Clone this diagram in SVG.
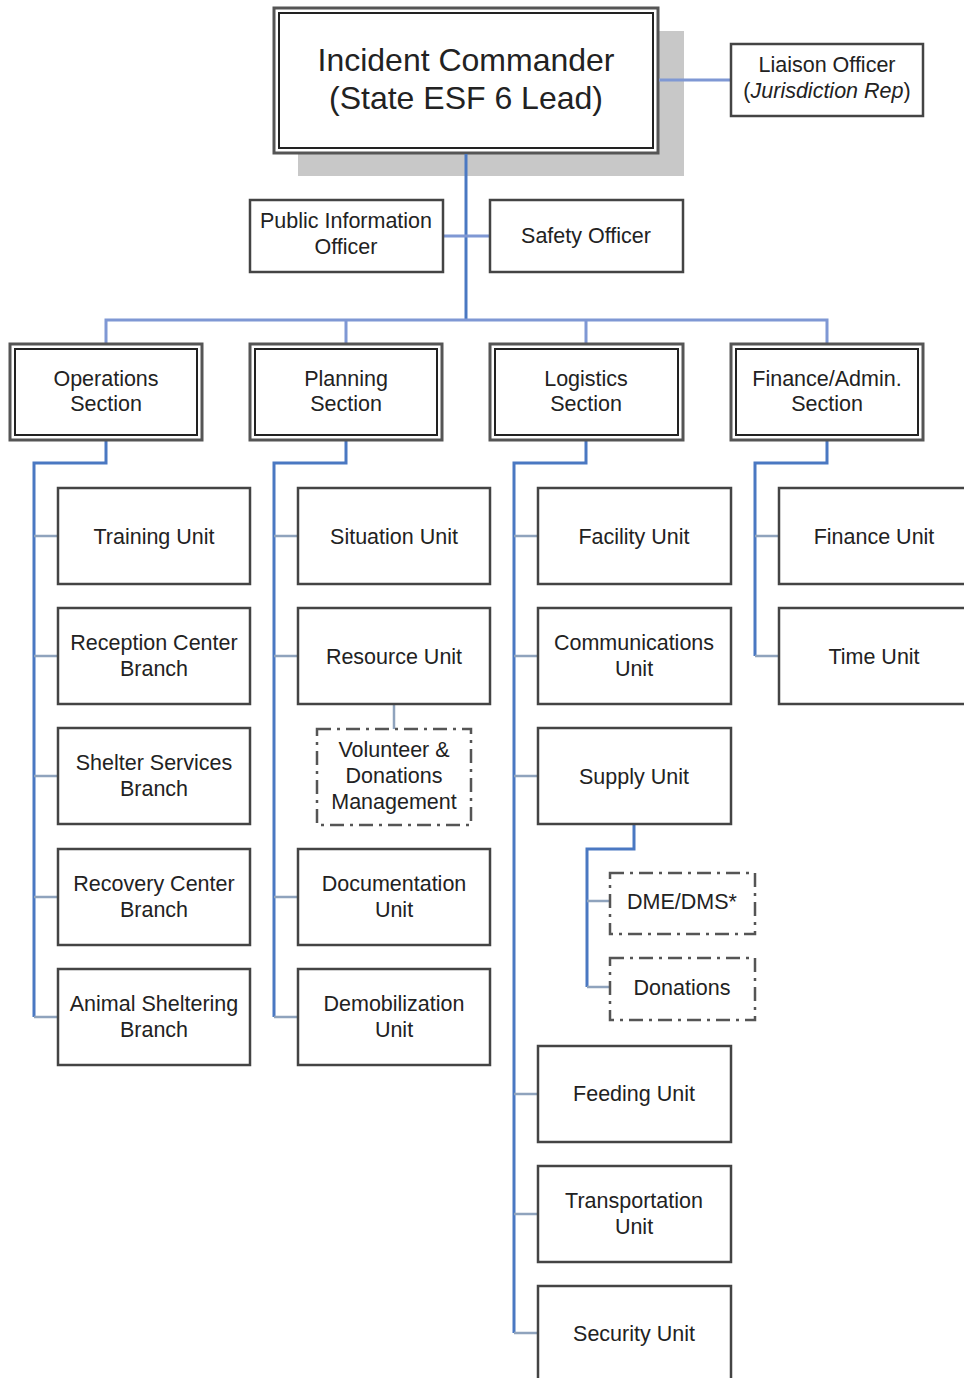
<svg xmlns="http://www.w3.org/2000/svg" width="964" height="1378" viewBox="0 0 964 1378">
<style>
text{font-family:"Liberation Sans",Arial,sans-serif;font-size:21.5px;fill:#222;text-anchor:middle}
.big{font-size:32px}
.box{fill:#fff;stroke:#444;stroke-width:2.5}
.outer{fill:#fff;stroke:#555;stroke-width:3}
.inner{fill:none;stroke:#222;stroke-width:2}
.dash{fill:#fff;stroke:#555;stroke-width:2.5;stroke-dasharray:14 6 3 6}
.main{fill:none;stroke:#4a78c2;stroke-width:3}
.top{fill:none;stroke:#7f98d4;stroke-width:3}
.stub{fill:none;stroke:#8fa3bd;stroke-width:2.5}
</style>
<rect width="964" height="1378" fill="#fff"/>
<g id="ic">
<rect x="298" y="31" width="386" height="145" fill="#c8c8c8"/>
<rect class="outer" x="274" y="8" width="384" height="145"/>
<rect class="inner" x="279" y="13" width="374" height="135"/>
<text class="big" x="466" y="71">Incident Commander</text>
<text class="big" x="466" y="109">(State ESF 6 Lead)</text>
</g>
<g id="connectors">
<path class="top" d="M659 80H731"/>
<path class="main" d="M466 154V320"/>
<path class="top" d="M443 236H490"/>
<path class="top" d="M106 345V320H827V345M346 320V345M586 320V345"/>
<path class="main" d="M106 440V463H34V1017"/>
<path class="stub" d="M34 536H58M34 656H58M34 776H58M34 897H58M34 1017H58"/>
<path class="main" d="M346 440V463H274V1017"/>
<path class="stub" d="M274 536H298M274 656H298M274 897H298M274 1017H298M394 704V729"/>
<path class="main" d="M586 440V463H514V1333"/>
<path class="stub" d="M514 536H538M514 656H538M514 776H538M514 1094H538M514 1214H538M514 1333H538"/>
<path class="main" d="M634 824V849H587V987"/>
<path class="stub" d="M587 901H610M587 987H610"/>
<path class="main" d="M827 440V463H755V656"/>
<path class="stub" d="M755 536H779M755 656H779"/>
</g>
<g id="liaison">
<rect class="box" x="731" y="44" width="192" height="72"/>
<text x="827" y="72">Liaison Officer</text>
<text x="827" y="98">(<tspan font-style="italic">Jurisdiction Rep</tspan>)</text>
</g>
<g id="pio">
<rect class="box" x="250" y="200" width="193" height="72"/>
<text x="346" y="228">Public Information</text>
<text x="346" y="254">Officer</text>
</g>
<g id="safety">
<rect class="box" x="490" y="200" width="193" height="72"/>
<text x="586" y="243">Safety Officer</text>
</g>
<g id="operations">
<rect class="outer" x="10" y="344" width="192" height="96"/>
<rect class="inner" x="15" y="349" width="182" height="86"/>
<text x="106" y="386">Operations</text><text x="106" y="411">Section</text>
</g>
<g id="planning">
<rect class="outer" x="250" y="344" width="192" height="96"/>
<rect class="inner" x="255" y="349" width="182" height="86"/>
<text x="346" y="386">Planning</text><text x="346" y="411">Section</text>
</g>
<g id="logistics">
<rect class="outer" x="490" y="344" width="193" height="96"/>
<rect class="inner" x="495" y="349" width="183" height="86"/>
<text x="586" y="386">Logistics</text><text x="586" y="411">Section</text>
</g>
<g id="finance">
<rect class="outer" x="731" y="344" width="192" height="96"/>
<rect class="inner" x="736" y="349" width="182" height="86"/>
<text x="827" y="386">Finance/Admin.</text><text x="827" y="411">Section</text>
</g>
<g id="training"><rect class="box" x="58" y="488" width="192" height="96"/><text x="154" y="544">Training Unit</text></g>
<g id="reception"><rect class="box" x="58" y="608" width="192" height="96"/><text x="154" y="650">Reception Center</text><text x="154" y="676">Branch</text></g>
<g id="shelter"><rect class="box" x="58" y="728" width="192" height="96"/><text x="154" y="770">Shelter Services</text><text x="154" y="796">Branch</text></g>
<g id="recovery"><rect class="box" x="58" y="849" width="192" height="96"/><text x="154" y="891">Recovery Center</text><text x="154" y="917">Branch</text></g>
<g id="animal"><rect class="box" x="58" y="969" width="192" height="96"/><text x="154" y="1011">Animal Sheltering</text><text x="154" y="1037">Branch</text></g>
<g id="situation"><rect class="box" x="298" y="488" width="192" height="96"/><text x="394" y="544">Situation Unit</text></g>
<g id="resource"><rect class="box" x="298" y="608" width="192" height="96"/><text x="394" y="664">Resource Unit</text></g>
<g id="volunteer"><rect class="dash" x="317" y="729" width="154" height="96"/><text x="394" y="757">Volunteer &amp;</text><text x="394" y="783">Donations</text><text x="394" y="809">Management</text></g>
<g id="documentation"><rect class="box" x="298" y="849" width="192" height="96"/><text x="394" y="891">Documentation</text><text x="394" y="917">Unit</text></g>
<g id="demobilization"><rect class="box" x="298" y="969" width="192" height="96"/><text x="394" y="1011">Demobilization</text><text x="394" y="1037">Unit</text></g>
<g id="facility"><rect class="box" x="538" y="488" width="193" height="96"/><text x="634" y="544">Facility Unit</text></g>
<g id="communications"><rect class="box" x="538" y="608" width="193" height="96"/><text x="634" y="650">Communications</text><text x="634" y="676">Unit</text></g>
<g id="supply"><rect class="box" x="538" y="728" width="193" height="96"/><text x="634" y="784">Supply Unit</text></g>
<g id="dme"><rect class="dash" x="610" y="873" width="145" height="61"/><text x="682" y="909">DME/DMS*</text></g>
<g id="donations"><rect class="dash" x="610" y="958" width="145" height="62"/><text x="682" y="995">Donations</text></g>
<g id="feeding"><rect class="box" x="538" y="1046" width="193" height="96"/><text x="634" y="1101">Feeding Unit</text></g>
<g id="transportation"><rect class="box" x="538" y="1166" width="193" height="96"/><text x="634" y="1208">Transportation</text><text x="634" y="1234">Unit</text></g>
<g id="security"><rect class="box" x="538" y="1286" width="193" height="110"/><text x="634" y="1341">Security Unit</text></g>
<g id="financeunit"><rect class="box" x="779" y="488" width="200" height="96"/><text x="874" y="544">Finance Unit</text></g>
<g id="timeunit"><rect class="box" x="779" y="608" width="200" height="96"/><text x="874" y="664">Time Unit</text></g>
</svg>
